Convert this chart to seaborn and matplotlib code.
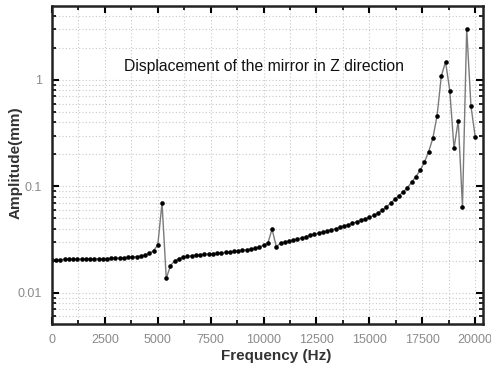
import numpy as np
import pandas as pd
import matplotlib
matplotlib.use("Agg")
import matplotlib.pyplot as plt
import matplotlib.ticker as mticker
import seaborn as sns

# ---- data ----
frequency_hz = list(range(0, 20001, 200))
amplitude_mm = [
    0.0205, 0.0205, 0.0205, 0.0206, 0.0206, 0.0206, 0.0207, 0.0207, 0.0207, 0.0208,
    0.0208, 0.0209, 0.0209, 0.0210, 0.0211, 0.0212, 0.0213, 0.0214, 0.0215, 0.0217,
    0.0219, 0.0222, 0.0227, 0.0235, 0.0249, 0.0282, 0.0700, 0.0137, 0.0180, 0.0200,
    0.0210, 0.0216, 0.0220, 0.0223, 0.0226, 0.0228, 0.0230, 0.0232, 0.0234, 0.0236,
    0.0238, 0.0240, 0.0243, 0.0245, 0.0248, 0.0251, 0.0254, 0.0258, 0.0263, 0.0270,
    0.0280, 0.0292, 0.0397, 0.0272, 0.0292, 0.0300, 0.0307, 0.0314, 0.0321, 0.0329,
    0.0337, 0.0346, 0.0355, 0.0364, 0.0373, 0.0382, 0.0391, 0.0400, 0.0412, 0.0424,
    0.0437, 0.0451, 0.0465, 0.0480, 0.0495, 0.0512, 0.0535, 0.0560, 0.0595, 0.0640,
    0.0695, 0.0758, 0.0820, 0.0888, 0.0975, 0.1095, 0.1236, 0.1420, 0.1690, 0.2110,
    0.2840, 0.4620, 1.0900, 1.4800, 0.7940, 0.2280, 0.4150, 0.0646, 3.0300, 0.5700,
    0.2940,
]
x_ticks = [0, 2500, 5000, 7500, 10000, 12500, 15000, 17500, 20000]
y_ticks = [0.01, 0.1, 1]
y_tick_labels = ["0.01", "0.1", "1"]
title_text = "Displacement of the mirror in Z direction"
x_label = "Frequency (Hz)"
y_label = "Amplitude(mm)"

df = pd.DataFrame({"freq": frequency_hz, "amp": amplitude_mm})

sns.set_style("ticks")
plt.rcParams["font.family"] = ["Liberation Sans", "DejaVu Sans"]

W, H = 491, 367
fig = plt.figure(figsize=(W / 100, H / 100), dpi=100)
ax = fig.add_axes([52 / W, 1 - 324 / H, (483 - 52) / W, (324 - 6) / H])

sns.lineplot(data=df, x="freq", y="amp", ax=ax, color="#7a7a7a", linewidth=1.0,
             marker="o", markersize=3.3, markerfacecolor="black",
             markeredgecolor="black", markeredgewidth=0)

ax.set_yscale("log")
ax.set_xlim(0, 20370)
ax.set_ylim(0.0051, 4.95)

ax.set_xticks(x_ticks)
ax.set_xticklabels([str(t) for t in x_ticks])
ax.xaxis.set_minor_locator(mticker.MultipleLocator(1250))
ax.set_yticks(y_ticks)
ax.set_yticklabels(y_tick_labels)
ax.yaxis.set_minor_locator(mticker.LogLocator(base=10, subs=np.arange(2, 10)))
ax.yaxis.set_minor_formatter(mticker.NullFormatter())

ax.grid(True, which="both", axis="both", linestyle=(0, (1, 2)), color="#c8c8c8", linewidth=0.8)
ax.set_axisbelow(True)

ax.tick_params(which="major", direction="in", length=5, width=1.5, top=True, right=True,
               labelsize=9, labelcolor="#8a8a8a", color="black")
ax.tick_params(axis="x", which="major", pad=7)
ax.tick_params(axis="y", which="major", pad=7)
ax.tick_params(which="minor", direction="in", length=3, width=1.2, top=True, right=True,
               color="black")

for s in ax.spines.values():
    s.set_linewidth(1.8)
    s.set_color("#222222")

ax.set_xlabel(x_label, fontsize=11, fontweight="bold", color="#333333")
ax.set_ylabel(y_label, fontsize=11, fontweight="bold", color="#333333")
# place axis labels where the reference shows them (figure pixels -> axes coords)
ax.xaxis.set_label_coords((276 - 52) / (483 - 52), -(349 - 324) / (324 - 6))
ax.yaxis.set_label_coords(-(52 - 23) / (483 - 52), (324 - 163) / (324 - 6))

ax.text((264 - 52) / (483 - 52), 1 - (66 - 6) / (324 - 6), title_text,
        transform=ax.transAxes, ha="center", va="center",
        fontsize=11.3, color="#111111")

fig.savefig("out.png", dpi=100)
